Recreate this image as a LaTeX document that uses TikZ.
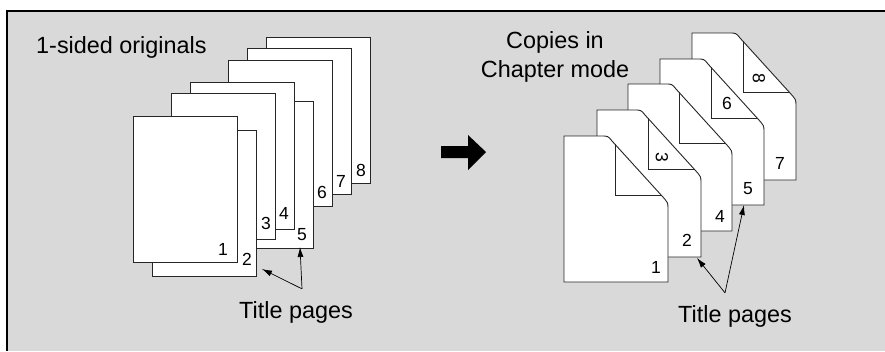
\documentclass[tikz,border=0pt]{standalone}
\usepackage{fontspec}
\setmainfont{Liberation Sans}
\usetikzlibrary{calc,arrows.meta}

\begin{document}
\begin{tikzpicture}[x=1pt,y=-1pt,
  blatt/.style={draw=black!85,line width=0.9pt,fill=white},
  knick/.style={draw=black!85,line width=0.9pt},
  ziffer/.style={inner sep=0pt,font=\fontsize{17.5}{20}\selectfont},
  schild/.style={inner sep=0pt,font=\fontsize{23.4}{29}\selectfont},
  zeiger/.style={line width=0.7pt,-{Latex[length=10pt,width=6pt]}}] % 1 Einheit = 1 Bildpunkt, y nach unten

%HINTERGRUND MIT RAHMEN
\useasboundingbox (0,0) rectangle (885,351);
\fill [black!15] (7,11) rectangle (885,351);
\draw [line width=1.6pt] (885,11) -- (7,11) -- (7,351);

%LINKE SEITE: VORLAGEN (von hinten nach vorne)
\node [schild,anchor=base west] (vorlagen) at (36,53) {1-sided originals};

%BLATT NR. 8
\draw [blatt] (266,37) rectangle (370,183);
\node [ziffer] (l8) at (361,170) {8};

%BLATT NR. 7
\draw [blatt] (247,48) rectangle (351,194);
\node [ziffer] (l7) at (341,181) {7};

%BLATT NR. 6
\draw [blatt] (228,60) rectangle (332,206);
\node [ziffer] (l6) at (322,192) {6};

%BLATT NR. 5
\draw [blatt] (209,101) rectangle (313,248);
\node [ziffer] (l5) at (302,235) {5};

%BLATT NR. 4
\draw [blatt] (190,82) rectangle (294,229);
\node [ziffer] (l4) at (284,213) {4};

%BLATT NR. 3
\draw [blatt] (171,93) rectangle (275,239);
\node [ziffer] (l3) at (266,223) {3};

%BLATT NR. 2
\draw [blatt] (152,130) rectangle (256,276);
\node [ziffer] (l2) at (247,259) {2};

%BLATT NR. 1
\draw [blatt] (133,116) rectangle (237,262);
\node [ziffer] (l1) at (223,249) {1};

%TITELSEITEN LINKS
\node [schild,anchor=base west] (titelL) at (239,318) {Title pages};
\coordinate (spitzeL2) at (262,269);
\coordinate (spitzeL5) at (300,247);
\draw [zeiger] ($(titelL.north)+(6,-12)$) -- (spitzeL2);
\draw [zeiger] ($(titelL.north)+(6,-12)$) -- (spitzeL5);

%PFEIL IN DER MITTE
\fill (441,146) -- (468,146) -- (468,135) -- (486,152) -- (468,170) -- (468,158) -- (441,158) -- cycle;

%RECHTE SEITE: KOPIEN IM KAPITELMODUS (von hinten nach vorne)
\node [schild,anchor=base] (kopien1) at (555,48) {Copies in};
\node [schild,anchor=base] (kopien2) at (555,77) {Chapter mode};

%KOPIE NR. 5 (Seiten 7 und 8)
\begin{scope}[shift={(692,33)}]
\draw [blatt] (0,147) -- (0,0) -- (37,0) .. controls (44,0) .. (48,5) -- (98,60) .. controls (104,66.6) .. (104,73) -- (104,147) -- cycle;
\draw [knick] (51,8.3) -- (51,59) -- (97,59);
\node [ziffer] (r7) at (88,130) {7};
\node [ziffer,rotate=-90] (r8) at (67,45) {8};
\end{scope}

%KOPIE NR. 4 (Seiten 5 und 6)
\begin{scope}[shift={(660,59)}]
\draw [blatt] (0,146) -- (0,0) -- (37,0) .. controls (44,0) .. (48,5) -- (98,60) .. controls (104,66.6) .. (104,73) -- (104,146) -- cycle;
\draw [knick] (51,8.3) -- (51,59) -- (97,59);
\node [ziffer] (r5) at (88,130) {5};
\node [ziffer] (r6) at (67,44) {6};
\end{scope}

%KOPIE NR. 3 (Seite 4)
\begin{scope}[shift={(628,84)}]
\draw [blatt] (0,147) -- (0,0) -- (37,0) .. controls (44,0) .. (48,5) -- (98,60) .. controls (104,66.6) .. (104,73) -- (104,147) -- cycle;
\draw [knick] (51,8.3) -- (51,59) -- (97,59);
\node [ziffer] (r4) at (92,132) {4};
\end{scope}

%KOPIE NR. 2 (Seiten 2 und 3)
\begin{scope}[shift={(597,110)}]
\draw [blatt] (0,147) -- (0,0) -- (37,0) .. controls (44,0) .. (48,5) -- (98,60) .. controls (104,66.6) .. (104,73) -- (104,147) -- cycle;
\draw [knick] (51,8.3) -- (51,59) -- (97,59);
\node [ziffer] (r2) at (90,130) {2};
\node [ziffer,rotate=-90] (r3) at (65,47) {3};
\end{scope}

%KOPIE NR. 1 (Seite 1)
\begin{scope}[shift={(564,136)}]
\draw [blatt] (0,146) -- (0,0) -- (37,0) .. controls (44,0) .. (48,5) -- (98,60) .. controls (104,66.6) .. (104,73) -- (104,146) -- cycle;
\draw [knick] (51,8.3) -- (51,59) -- (97,59);
\node [ziffer] (r1) at (92,131) {1};
\end{scope}

%TITELSEITEN RECHTS
\node [schild,anchor=base west] (titelR) at (678,322) {Title pages};
\coordinate (spitzeR2) at (697,258);
\coordinate (spitzeR5) at (744,205);
\draw [zeiger] ($(titelR.north)+(-10,-12)$) -- (spitzeR2);
\draw [zeiger] ($(titelR.north)+(-10,-12)$) -- (spitzeR5);

\end{tikzpicture}
\end{document}
